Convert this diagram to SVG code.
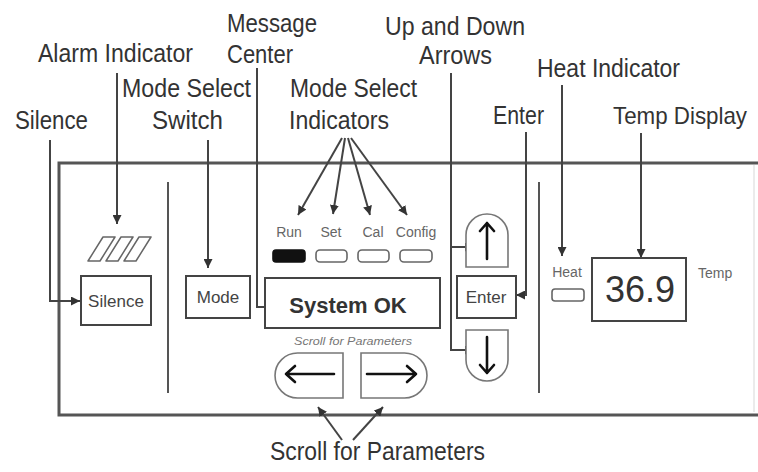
<svg xmlns="http://www.w3.org/2000/svg" width="758" height="472" viewBox="0 0 758 472">
<defs>
<marker id="ah" viewBox="0 0 10 10" refX="10" refY="5" markerWidth="9" markerHeight="9" markerUnits="userSpaceOnUse" orient="auto">
<path d="M0,0 L10,5 L0,10 z" fill="#333"/>
</marker>
<style>
.lbl{font-family:"Liberation Sans",Arial,sans-serif;font-size:26px;fill:#333}
.con{fill:none;stroke:#444;stroke-width:2}
.box{fill:#fff;stroke:#444;stroke-width:2}
.btn{fill:#fff;stroke:#777;stroke-width:1.6}
.sm{font-family:"Liberation Sans",Arial,sans-serif;fill:#666;font-size:14px}
.btxt{font-family:"Liberation Sans",Arial,sans-serif;fill:#444;font-size:17px;text-anchor:middle}
.arw{fill:none;stroke:#111;stroke-width:2.6;stroke-linecap:round;stroke-linejoin:round}
.ind{fill:#fff;stroke:#666;stroke-width:1.6}
</style>
</defs>
<rect width="758" height="472" fill="#fff"/>

<g id="panel">
<path d="M758 163 H59 V415 H758" fill="none" stroke="#555" stroke-width="3"/>
<line x1="754" y1="165" x2="754" y2="412" stroke="#e4e4e4" stroke-width="1.5"/>
<line x1="168" y1="182" x2="168" y2="393" stroke="#555" stroke-width="2"/>
<line x1="539" y1="182" x2="539" y2="393" stroke="#555" stroke-width="2"/>
</g>

<g id="labels">
<text class="lbl" x="227" y="32" textLength="90" lengthAdjust="spacingAndGlyphs">Message</text>
<text class="lbl" x="227" y="63" textLength="66" lengthAdjust="spacingAndGlyphs">Center</text>
<text class="lbl" x="38" y="62" textLength="155" lengthAdjust="spacingAndGlyphs">Alarm Indicator</text>
<text class="lbl" x="15" y="129" textLength="73" lengthAdjust="spacingAndGlyphs">Silence</text>
<text class="lbl" x="122" y="97" textLength="129" lengthAdjust="spacingAndGlyphs">Mode Select</text>
<text class="lbl" x="152" y="129" textLength="71" lengthAdjust="spacingAndGlyphs">Switch</text>
<text class="lbl" x="290" y="97" textLength="127" lengthAdjust="spacingAndGlyphs">Mode Select</text>
<text class="lbl" x="289" y="129" textLength="100" lengthAdjust="spacingAndGlyphs">Indicators</text>
<text class="lbl" x="385" y="35" textLength="140" lengthAdjust="spacingAndGlyphs">Up and Down</text>
<text class="lbl" x="419" y="64" textLength="73" lengthAdjust="spacingAndGlyphs">Arrows</text>
<text class="lbl" x="537" y="77" textLength="143" lengthAdjust="spacingAndGlyphs">Heat Indicator</text>
<text class="lbl" x="493" y="124" textLength="51" lengthAdjust="spacingAndGlyphs">Enter</text>
<text class="lbl" x="747" y="124" text-anchor="end" font-size="24" style="font-size:24px" textLength="134" lengthAdjust="spacingAndGlyphs">Temp Display</text>
<text class="lbl" x="270" y="460" textLength="215" lengthAdjust="spacingAndGlyphs">Scroll for Parameters</text>
</g>

<g id="connectors">
<path class="con" d="M50 140 V301 H80" marker-end="url(#ah)"/>
<path class="con" d="M117 73 V224" marker-end="url(#ah)"/>
<path class="con" d="M208 140 V268" marker-end="url(#ah)"/>
<path class="con" d="M257 68 V307 H277" marker-end="url(#ah)"/>
<path class="con" d="M342 138 L298 215" marker-end="url(#ah)"/>
<path class="con" d="M345 138 L333 214" marker-end="url(#ah)"/>
<path class="con" d="M348 138 L370 215" marker-end="url(#ah)"/>
<path class="con" d="M351 138 L407 215" marker-end="url(#ah)"/>
<path class="con" d="M451 73 V350 H474" marker-end="url(#ah)"/>
<path class="con" d="M451 247 H474" marker-end="url(#ah)"/>
<path class="con" d="M526 132 V295 H516" marker-end="url(#ah)"/>
<path class="con" d="M562 85 V256" marker-end="url(#ah)"/>
<path class="con" d="M641 133 V258" marker-end="url(#ah)"/>
<path class="con" d="M342 440 L318 407" stroke-width="1.6" marker-end="url(#ah)"/>
<path class="con" d="M353 440 L383 407" stroke-width="1.6" marker-end="url(#ah)"/>
</g>

<g id="alarm-indicator" fill="#fff" stroke="#666" stroke-width="1.5" stroke-linejoin="round">
<path d="M88 261 L100 261 L115 237 L103 237 Z"/>
<path d="M106 261 L118 261 L133 237 L121 237 Z"/>
<path d="M124 261 L136 261 L151 237 L139 237 Z"/>
</g>

<g id="silence">
<rect class="box" x="81" y="276" width="70" height="49"/>
<text class="btxt" x="116" y="307">Silence</text>
</g>

<g id="mode">
<rect class="box" x="186" y="276" width="64" height="42"/>
<text class="btxt" x="218" y="303">Mode</text>
</g>

<g id="mode-indicators">
<text class="sm" x="289" y="237" text-anchor="middle">Run</text>
<text class="sm" x="331" y="237" text-anchor="middle">Set</text>
<text class="sm" x="373" y="237" text-anchor="middle">Cal</text>
<text class="sm" x="416" y="237" text-anchor="middle">Config</text>
<rect x="273" y="250" width="32" height="12" rx="3" fill="#111" stroke="#111" stroke-width="1.6"/>
<rect class="ind" x="316" y="250" width="31" height="12" rx="4"/>
<rect class="ind" x="358" y="250" width="31" height="12" rx="4"/>
<rect class="ind" x="400" y="250" width="32" height="12" rx="4"/>
</g>

<g id="message-center">
<rect class="box" x="265" y="278" width="175" height="50"/>
<text x="348" y="313" text-anchor="middle" font-family="Liberation Sans, Arial, sans-serif" font-size="22" font-weight="bold" fill="#333">System OK</text>
<text x="294" y="345" textLength="118" lengthAdjust="spacingAndGlyphs" font-family="Liberation Sans, Arial, sans-serif" font-size="11" font-style="italic" fill="#777">Scroll for Parameters</text>
</g>

<g id="scroll-left">
<path class="btn" d="M343 353 H297.5 A22.5 22.5 0 0 0 297.5 398 H343 Z"/>
<path class="arw" d="M334 374 H286 M295 366 L286 374 L295 382"/>
</g>

<g id="scroll-right">
<path class="btn" d="M361 353 H404.5 A22.5 22.5 0 0 1 404.5 398 H361 Z"/>
<path class="arw" d="M367 374 H416 M407 366 L416 374 L407 382"/>
</g>

<g id="up-arrow">
<path class="btn" d="M466 267 V235 A21 21 0 0 1 508 235 V267 Z"/>
<path class="arw" d="M487 259 V223 M480 231 L487 223 L494 231"/>
</g>

<g id="enter">
<rect class="box" x="457" y="276" width="59" height="42"/>
<text class="btxt" x="486" y="303">Enter</text>
</g>

<g id="down-arrow">
<path class="btn" d="M466 330 H508 V360 A21 21 0 0 1 466 360 Z"/>
<path class="arw" d="M487 337 V373 M480 365 L487 373 L494 365"/>
</g>

<g id="heat-indicator">
<text class="sm" x="567" y="277" text-anchor="middle">Heat</text>
<rect class="ind" x="552" y="289" width="32" height="12" rx="3"/>
</g>

<g id="temp-display">
<rect class="box" x="592" y="258" width="94" height="63"/>
<text x="640" y="302" text-anchor="middle" font-family="Liberation Sans, Arial, sans-serif" font-size="36" fill="#333">36.9</text>
<text class="sm" x="698" y="278">Temp</text>
</g>
</svg>
